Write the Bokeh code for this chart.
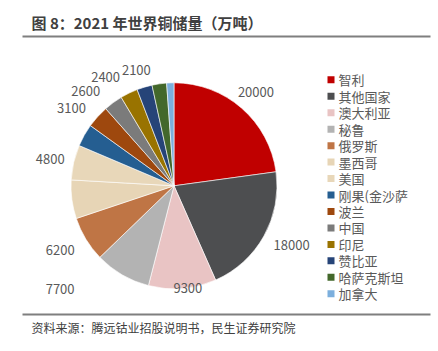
import math
from bokeh.plotting import figure
from bokeh.models import Range1d, ColumnDataSource
from bokeh.core.properties import value
from bokeh.embed import file_html
from bokeh.resources import INLINE

# ---- data ----
countries = ["智利", "其他国家", "澳大利亚", "秘鲁", "俄罗斯", "墨西哥", "美国",
             "刚果(金沙萨", "波兰", "中国", "印尼", "赞比亚", "哈萨克斯坦", "加拿大"]
reserves = [20000, 18000, 9300, 7700, 6200, 5300, 4800,
            3100, 3100, 2600, 2400, 2100, 2000, 1000]
label_shown = [True, True, True, True, True, False, True,
               False, True, True, True, True, False, False]
title_text = "图 8：2021 年世界铜储量（万吨）"
source_text = "资料来源：腾远钴业招股说明书，民生证券研究院"

# ---- style / layout ----
colors = ["#C00000", "#4D4E50", "#E9C4C4", "#B3B3B3", "#BF7545", "#E7D5B6", "#E8D7B9",
          "#255E91", "#9E480E", "#7B7B7B", "#997300", "#264478", "#43682B", "#7CAFDD"]
label_rf = [1.21, 1.28, 1.0, 1.49, 1.27, 1.25, 1.23, 1.25, 1.25, 1.26, 1.25, 1.18, 1.2, 1.2]
label_shift = [0, -2.3, -3, 17.7, 1.7, 0, -0.9, 0, -4.9, -6.7, -6.2, -1.4, 0, 0]

W, H = 438, 351
FONT = value("Noto Sans CJK SC")
cx, cy, R = 173.5, H - 185.3, 103.0

p = figure(width=W, height=H, output_backend="svg", toolbar_location=None,
           x_range=Range1d(0, W), y_range=Range1d(0, H),
           x_axis_type=None, y_axis_type=None, min_border=0)
p.outline_line_color = None
p.grid.visible = False
p.background_fill_color = "white"
p.border_fill_color = "white"

total = sum(reserves)
starts, ends, mids = [], [], []
acc = 0.0
for v in reserves:
    t0 = acc / total * 360.0
    acc += v
    t1 = acc / total * 360.0
    starts.append(math.radians(90 - t0))
    ends.append(math.radians(90 - t1))
    mids.append((t0 + t1) / 2)

src = ColumnDataSource(dict(start=starts, end=ends, color=colors))
p.wedge(x=cx, y=cy, radius=R, start_angle="start", end_angle="end", direction="clock",
        fill_color="color", line_color="white", line_width=0.6, source=src)

# data labels
lx, ly, lt = [], [], []
for i, v in enumerate(reserves):
    if not label_shown[i]:
        continue
    th = math.radians(mids[i] + label_shift[i])
    r = R * label_rf[i]
    lx.append(cx + r * math.sin(th))
    ly.append(cy + r * math.cos(th))
    lt.append(str(v))
p.text(x=lx, y=ly, text=lt, text_align="center", text_baseline="middle",
       text_font=FONT, text_font_size="13px", text_color="#595959")

# legend
n = len(countries)
leg_y = [H - (79.3 + i * 16.46) for i in range(n)]
p.rect(x=[330.5] * n, y=leg_y, width=7, height=7, width_units="screen", height_units="screen",
       fill_color=colors, line_color=None)
p.text(x=[338] * n, y=leg_y, text=countries, text_align="left", text_baseline="middle",
       text_font=FONT, text_font_size="13px", text_color="#595959")

# title and source
p.text(x=[31], y=[H - 21.5], text=[title_text], text_align="left", text_baseline="middle",
       text_font=FONT, text_font_size="15px", text_font_style="bold", text_color="#404040")
p.segment(x0=[22, 22], y0=[H - 36, H - 314], x1=[430, 430], y1=[H - 36, H - 314],
          line_color="#7F7F7F", line_width=1.8)
p.text(x=[31], y=[H - 327], text=[source_text], text_align="left", text_baseline="middle",
       text_font=FONT, text_font_size="12px", text_color="#404040")

open("out.html", "w").write(file_html(p, INLINE))
